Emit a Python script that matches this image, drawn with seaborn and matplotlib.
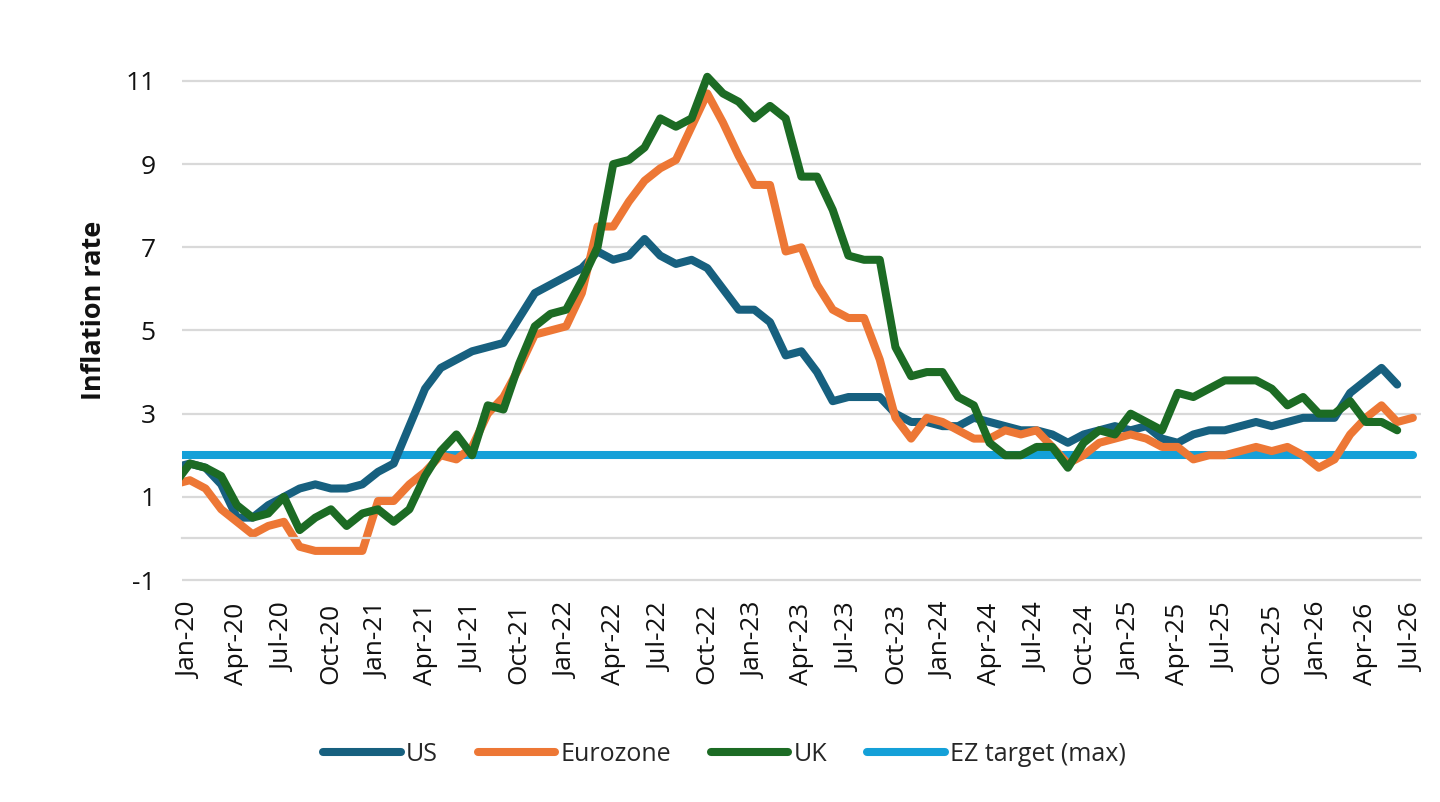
import numpy as np
import pandas as pd
import matplotlib
matplotlib.use("Agg")
import matplotlib.pyplot as plt
import seaborn as sns
from matplotlib.lines import Line2D

# ---------------- data ----------------
month_names = ["Jan", "Feb", "Mar", "Apr", "May", "Jun",
               "Jul", "Aug", "Sep", "Oct", "Nov", "Dec"]
categories = ["Dec-19"] + [f"{m}-{y}" for y in range(20, 27) for m in month_names][:79]

us = [1.7,
      1.8, 1.7, 1.3, 0.5, 0.5, 0.8, 1.0, 1.2, 1.3, 1.2, 1.2, 1.3,
      1.6, 1.8, 2.7, 3.6, 4.1, 4.3, 4.5, 4.6, 4.7, 5.3, 5.9, 6.1,
      6.3, 6.5, 6.9, 6.7, 6.8, 7.2, 6.8, 6.6, 6.7, 6.5, 6.0, 5.5,
      5.5, 5.2, 4.4, 4.5, 4.0, 3.3, 3.4, 3.4, 3.4, 3.0, 2.8, 2.8,
      2.7, 2.7, 2.9, 2.8, 2.7, 2.6, 2.6, 2.5, 2.3, 2.5, 2.6, 2.7,
      2.6, 2.7, 2.4, 2.3, 2.5, 2.6, 2.6, 2.7, 2.8, 2.7, 2.8, 2.9,
      2.9, 2.9, 3.5, 3.8, 4.1, 3.7, None]

eurozone = [1.3,
            1.4, 1.2, 0.7, 0.4, 0.1, 0.3, 0.4, -0.2, -0.3, -0.3, -0.3, -0.3,
            0.9, 0.9, 1.3, 1.6, 2.0, 1.9, 2.2, 3.0, 3.4, 4.1, 4.9, 5.0,
            5.1, 5.9, 7.5, 7.5, 8.1, 8.6, 8.9, 9.1, 9.9, 10.7, 10.0, 9.2,
            8.5, 8.5, 6.9, 7.0, 6.1, 5.5, 5.3, 5.3, 4.3, 2.9, 2.4, 2.9,
            2.8, 2.6, 2.4, 2.4, 2.6, 2.5, 2.6, 2.2, 1.8, 2.0, 2.3, 2.4,
            2.5, 2.4, 2.2, 2.2, 1.9, 2.0, 2.0, 2.1, 2.2, 2.1, 2.2, 2.0,
            1.7, 1.9, 2.5, 2.9, 3.2, 2.8, 2.9]

uk = [1.3,
      1.8, 1.7, 1.5, 0.8, 0.5, 0.6, 1.0, 0.2, 0.5, 0.7, 0.3, 0.6,
      0.7, 0.4, 0.7, 1.5, 2.1, 2.5, 2.0, 3.2, 3.1, 4.2, 5.1, 5.4,
      5.5, 6.2, 7.0, 9.0, 9.1, 9.4, 10.1, 9.9, 10.1, 11.1, 10.7, 10.5,
      10.1, 10.4, 10.1, 8.7, 8.7, 7.9, 6.8, 6.7, 6.7, 4.6, 3.9, 4.0,
      4.0, 3.4, 3.2, 2.3, 2.0, 2.0, 2.2, 2.2, 1.7, 2.3, 2.6, 2.5,
      3.0, 2.8, 2.6, 3.5, 3.4, 3.6, 3.8, 3.8, 3.8, 3.6, 3.2, 3.4,
      3.0, 3.0, 3.3, 2.8, 2.8, 2.6, None]

ez_target = [2.0] * len(categories)

series_names = ["US", "Eurozone", "UK", "EZ target (max)"]
series_values = [us, eurozone, uk, ez_target]
colors = {"US": "#17607f", "Eurozone": "#ed7735",
          "UK": "#1c6b24", "EZ target (max)": "#14a0d8"}

y_ticks = [-1, 1, 3, 5, 7, 9, 11]
y_tick_labels = ["-1", "1", "3", "5", "7", "9", "11"]

# ---------------- frame ----------------
positions = np.arange(len(categories)) - 1  # Jan-20 at 0
rows = []
for name, vals in zip(series_names, series_values):
    for p, v in zip(positions, vals):
        if v is not None:
            rows.append({"pos": p, "value": v, "series": name})
df = pd.DataFrame(rows)

sns.set_theme(style="white")
plt.rcParams["font.family"] = ["Open Sans", "DejaVu Sans"]
plt.rcParams["axes.unicode_minus"] = False

fig = plt.figure(figsize=(14.4, 8.02), dpi=100)
ax = fig.add_axes([0.1264, 0.2742, 0.8602, 0.6767])

grid_c = "#d9d9d9"
draw_order = ["EZ target (max)", "US", "Eurozone", "UK"]
sns.lineplot(data=df, x="pos", y="value", hue="series", hue_order=draw_order,
             palette=colors, linewidth=5.8, estimator=None, sort=False,
             legend=False, ax=ax, solid_capstyle="round",
             solid_joinstyle="round")

ax.set_xlim(-0.5, 78.5)
ax.set_ylim(-1.05, 12)

# y axis
ax.set_yticks(y_ticks)
ax.set_yticklabels(y_tick_labels)
ax.tick_params(axis="y", length=0, pad=19, labelsize=19, labelcolor="#111111")
ax.yaxis.grid(True, color=grid_c, linewidth=1.6)
ax.xaxis.grid(False)
ax.set_axisbelow(True)
ax.set_ylabel("Inflation rate", fontsize=19.5, fontweight="bold", color="#111111")
ax.yaxis.set_label_coords(-0.0605, 0.5)

# zero axis with quarterly tick marks between categories
for s in ["left", "right", "top"]:
    ax.spines[s].set_visible(False)
ax.spines["bottom"].set_position(("data", 0))
ax.spines["bottom"].set_color(grid_c)
ax.spines["bottom"].set_linewidth(1.6)
boundaries = np.arange(-0.5, 78.5, 3)
ax.set_xticks(boundaries)
ax.tick_params(axis="x", length=6, width=1.6, color=grid_c,
               direction="out", labelbottom=False)
ax.set_xlabel("")

# category labels at the bottom
label_pos = positions[1::3]
label_txt = categories[1::3]
sec = ax.secondary_xaxis("bottom")
sec.set_xticks(label_pos, label_txt)
sec.tick_params(axis="x", length=0, pad=15, labelsize=19,
                labelrotation=90, labelcolor="#111111")
sec.spines["bottom"].set_visible(False)

# legend
handles = [Line2D([0], [0], color=colors[n], linewidth=5.8,
                  solid_capstyle="round") for n in series_names]
fig.legend(handles, series_names, loc="center", bbox_to_anchor=(0.503, 0.059),
           ncol=4, frameon=False, fontsize=18, handlelength=3.1,
           handletextpad=0.2, columnspacing=1.6)

fig.savefig("out.png", dpi=100)
